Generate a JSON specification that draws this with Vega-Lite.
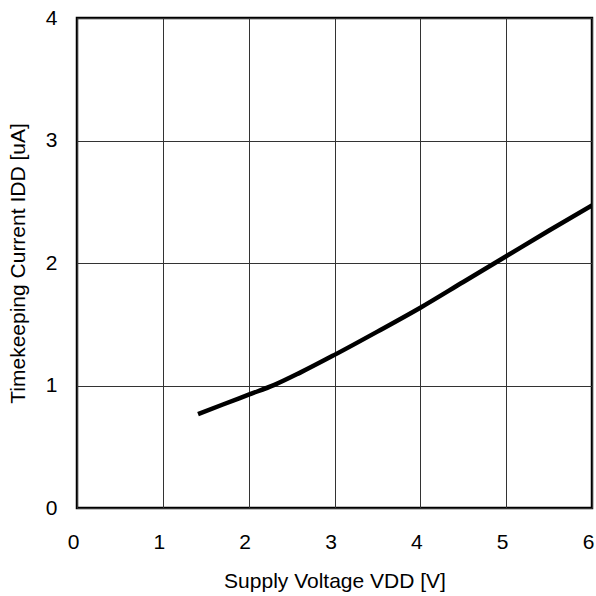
{
  "$schema": "https://vega.github.io/schema/vega-lite/v6.json",
  "autosize": "none",
  "width": 515,
  "height": 490,
  "padding": {"left": 77, "top": 18, "right": 4, "bottom": 88},
  "background": "white",
  "config": {
    "font": "Liberation Sans",
    "view": {"stroke": "black", "strokeWidth": 2.5},
    "axis": {
      "domain": false,
      "ticks": false,
      "grid": true,
      "gridColor": "#333333",
      "gridWidth": 1,
      "gridOpacity": 1,
      "labelFont": "Liberation Sans",
      "labelFontSize": 21,
      "labelColor": "black",
      "titleFont": "Liberation Sans",
      "titleFontSize": 21,
      "titleFontWeight": "normal",
      "titleColor": "black"
    }
  },
  "data": {
    "values": [
      {"v": 1.41, "i": 0.766},
      {"v": 1.7, "i": 0.845},
      {"v": 2.0, "i": 0.925},
      {"v": 2.3, "i": 1.005},
      {"v": 2.6, "i": 1.105},
      {"v": 3.0, "i": 1.25},
      {"v": 3.5, "i": 1.44},
      {"v": 4.0, "i": 1.635},
      {"v": 4.5, "i": 1.845},
      {"v": 5.0, "i": 2.055},
      {"v": 5.5, "i": 2.265},
      {"v": 6.0, "i": 2.47}
    ]
  },
  "mark": {"type": "line", "color": "black", "strokeWidth": 4.5, "interpolate": "monotone", "clip": true},
  "encoding": {
    "x": {
      "field": "v",
      "type": "quantitative",
      "scale": {"domain": [0, 6], "nice": false},
      "axis": {"values": [0, 1, 2, 3, 4, 5, 6], "labelPadding": 23, "labelOffset": -4, "title": "Supply Voltage VDD [V]", "titlePadding": 18, "labelFlush": false}
    },
    "y": {
      "field": "i",
      "type": "quantitative",
      "scale": {"domain": [0, 4], "nice": false},
      "axis": {"values": [0, 1, 2, 3, 4], "labelPadding": 20, "title": "Timekeeping Current IDD [uA]", "titlePadding": 17, "labelFlush": false}
    }
  }
}
